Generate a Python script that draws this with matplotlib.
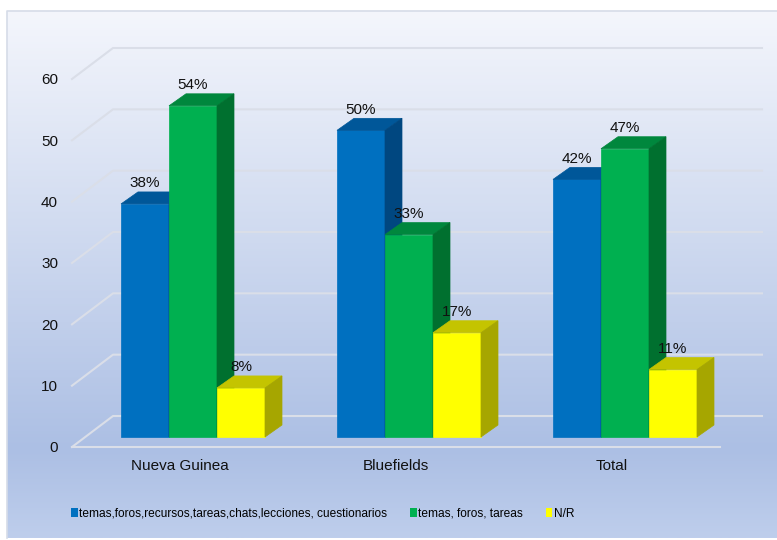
import numpy as np
import matplotlib.pyplot as plt
from matplotlib.patches import Polygon, Rectangle, Patch

plt.rcParams['font.family'] = ['Liberation Sans', 'DejaVu Sans']

categories = ['Nueva Guinea', 'Bluefields', 'Total']
series = ['temas,foros,recursos,tareas,chats,lecciones, cuestionarios',
          'temas, foros, tareas',
          'N/R']
values = [
    [38, 50, 42],   # temas,foros,recursos,...
    [54, 33, 47],   # temas, foros, tareas
    [8, 17, 11],    # N/R
]
yticks = [0, 10, 20, 30, 40, 50, 60]

# front, top, side shades for each series
front_col = ['#0070C0', '#00B050', '#FFFF00']
top_col = ['#005799', '#00873D', '#C4C400']
side_col = ['#004780', '#00702F', '#A6A600']
grid_col = '#dadee8'

W, H = 777, 540
fig = plt.figure(figsize=(W / 100, H / 100), dpi=100)

# background panel with vertical gradient
bg = fig.add_axes([0, 0, 1, 1])
bg.set_xlim(0, W)
bg.set_ylim(H, 0)
bg.axis('off')
stops_y = [11, 450, 538]
stops_c = np.array([[244, 246, 252], [172, 191, 228], [190, 206, 236]]) / 255
ys = np.linspace(11, 538, 400)
grad = np.stack([np.interp(ys, stops_y, stops_c[:, k]) for k in range(3)], axis=-1)
bg.imshow(grad[:, None, :], extent=(7, 777, 538, 11), aspect='auto',
          interpolation='bilinear', zorder=0)
bg.plot([7, 7, 777], [538, 11, 11], color='#d6dce8', lw=1.2, zorder=1)

# front plane of the floor
ax = fig.add_axes([72 / W, 1 - 447 / H, 648 / W, 368 / H])
ax.set_xlim(-0.5, 2.5)
ax.set_ylim(0, 60)
ax.patch.set_visible(False)
for s in ax.spines.values():
    s.set_visible(False)

px_x = 648 / 3      # pixels per category
px_y = 368 / 60     # pixels per unit
DX, DY = 41 / px_x, 31 / px_y          # full floor depth
fx, fy = 13 / px_x, 10 / px_y          # bar front face offset
ddx, ddy = 17 / px_x, 12 / px_y        # bar depth
bw = 48 / px_x
right_end = 2.5 + (762 - 720) / px_x

# walls and gridlines
for t in yticks:
    ax.plot([-0.5, -0.5 + DX, right_end], [t, t + DY, t + DY],
            color=grid_col, lw=1.5, clip_on=False, zorder=1)
ax.plot([-0.5, 2.5], [0, 0], color=grid_col, lw=1.5, clip_on=False, zorder=1)

# 3D bars
x = np.arange(len(categories))
for i in x:
    for j in range(len(series)):
        v = values[j][i]
        x0 = i + (j - 1) * bw - bw / 2 + fx
        ax.add_patch(Rectangle((x0, fy), bw, v, fc=front_col[j], ec=front_col[j],
                               lw=0.5, zorder=3, clip_on=False))
        top = [(x0, fy + v), (x0 + bw, fy + v),
               (x0 + bw + ddx, fy + v + ddy), (x0 + ddx, fy + v + ddy)]
        ax.add_patch(Polygon(top, closed=True, fc=top_col[j], ec=top_col[j],
                             lw=0.5, zorder=3, clip_on=False))
        side = [(x0 + bw, fy), (x0 + bw, fy + v),
                (x0 + bw + ddx, fy + v + ddy), (x0 + bw + ddx, fy + ddy)]
        ax.add_patch(Polygon(side, closed=True, fc=side_col[j], ec=side_col[j],
                             lw=0.5, zorder=3, clip_on=False))
        ax.text(x0 + bw / 2, fy + v + ddy + 4.5 / px_y, f'{v}%', ha='center',
                va='baseline', fontsize=11, color='#111111', zorder=5)

ax.set_xticks(x)
ax.set_xticklabels(categories, fontsize=11, color='#111111')
ax.set_yticks(yticks)
ax.set_yticklabels([str(t) for t in yticks], fontsize=11, color='#111111')
ax.tick_params(axis='x', length=0, pad=9)
ax.tick_params(axis='y', length=0, pad=10)

handles = [Patch(fc=front_col[j], ec='none', label=series[j]) for j in range(3)]
fig.legend(handles=handles, loc='center left', bbox_to_anchor=(71 / W, 1 - 514 / H),
           ncol=3, frameon=False, fontsize=8.6, handlelength=0.55, handleheight=0.75,
           handletextpad=0.15, columnspacing=1.9, borderpad=0, borderaxespad=0)

fig.savefig('out.png', dpi=100)
